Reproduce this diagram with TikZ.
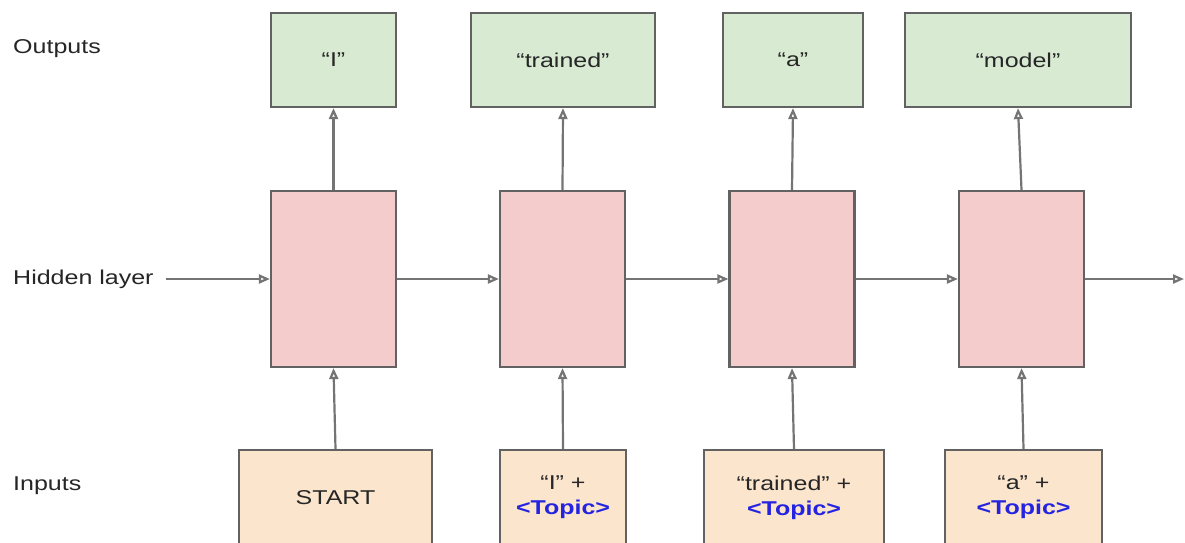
\documentclass[tikz,border=0pt]{standalone}
\usepackage{fontspec}
\setmainfont{Liberation Sans}[FakeStretch=1.25]
\usetikzlibrary{arrows.meta}

\definecolor{outfill}{HTML}{D9EAD3}
\definecolor{hidfill}{HTML}{F4CCCC}
\definecolor{infill}{HTML}{FCE5CD}
\definecolor{boxline}{HTML}{626262}
\definecolor{arrline}{HTML}{747474}
\definecolor{topicblue}{HTML}{2424E0}
\definecolor{txt}{HTML}{262626}

\newcommand{\topic}{\textcolor{topicblue}{\textbf{<Topic>}}}

\tikzset{%
		every cell/.style={
			rectangle,
			draw=boxline,
			line width=2.2pt,
			inner sep=0pt,
			align=center,
			text=txt
		},
		cell output/.style={fill=outfill, minimum height=94pt},
		cell hidden/.style={fill=hidfill, minimum height=176pt, minimum width=125pt},
		cell input/.style={fill=infill, minimum height=95pt},
		row label/.style={
			anchor=west,
			inner sep=0pt,
			text=txt
		},
		link/.style={
			draw=arrline,
			line width=2.2pt,
			-{Triangle[open, length=11pt, width=9pt]}
		},
	}

\begin{document}
\begin{tikzpicture}[x=1pt, y=-1pt, font=\fontsize{20}{25}\selectfont]
			\useasboundingbox (0,0) rectangle (1185,542);
			\clip (0,0) rectangle (1185,542);

			% draw nodes in output row
			\foreach \x/\w/\t [count=\i] in {333.5/125/{“I”}, 563/184/{“trained”}, 793/140/{“a”}, 1018/226/{“model”}}
			\node [every cell, cell output, minimum width=\w pt] (output-\i) at (\x,60) {\t};

			% draw nodes in hidden row
			\foreach \x [count=\i] in {333.5, 562.5, 792, 1021.5}
			\node [every cell, cell hidden] (hidden-\i) at (\x,279) {};

			% draw nodes in input row
			\foreach \x/\w/\t [count=\i] in {335.5/193/{START}, 563/126/{“I” +\\\topic}, 794/180/{“trained” +\\\topic}, 1023.5/157/{“a” +\\\topic}}
			\node [every cell, cell input, minimum width=\w pt] (input-\i) at (\x,497.5) {\t};

			% Annotate rows
			\node [row label] (outlabel) at (13,49) {Outputs};
			\node [row label] (hidlabel) at (13,279) {Hidden layer};
			\node [row label] (inlabel) at (13,486) {Inputs};
			\coordinate (hidden-out) at (1184,279);

			% Draw arrows from inputs to hidden and hidden to outputs
			\foreach \i in {1,...,4}
			{
			\draw [link] (input-\i.north) -- (hidden-\i.south);
			\draw [link] (hidden-\i.north) -- (output-\i.south);
			}

			% Draw arrows along hidden layer
			\draw [link, shorten <=12pt] (hidlabel.east) -- (hidden-1.west);
			\foreach \i [evaluate=\i as \j using int(\i+1)] in {1,...,3}
			\draw [link] (hidden-\i.east) -- (hidden-\j.west);
			\draw [link] (hidden-4.east) -- (hidden-out);
\end{tikzpicture}
\end{document}
